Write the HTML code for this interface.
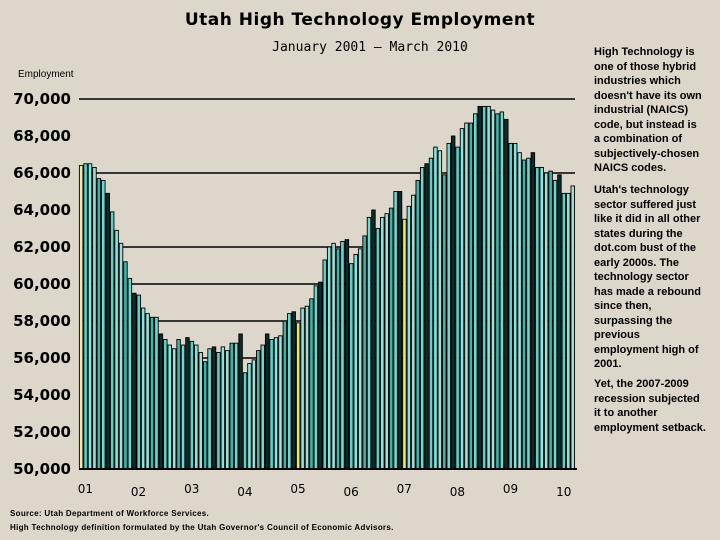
<!DOCTYPE html>
<html><head><meta charset="utf-8"><style>
body{margin:0;width:720px;height:540px;background:#ddd6ca;font-family:"Liberation Sans",sans-serif;overflow:hidden;position:relative}
.t{position:absolute;white-space:nowrap}
.p{position:absolute;left:594px;font:bold 11px 'Liberation Sans',sans-serif;line-height:14.5px;white-space:nowrap}
</style></head><body>
<div class="t" style="left:0;width:720px;text-align:center;top:10px;font:bold 17px 'DejaVu Sans',sans-serif;letter-spacing:0.5px">Utah High Technology Employment</div>
<div class="t" style="left:170px;width:400px;text-align:center;top:40px;font:13px 'DejaVu Sans Mono','Liberation Mono',monospace">January 2001 – March 2010</div>
<div class="t" style="left:18px;top:69px;font-size:10px">Employment</div>
<div class="p" style="top:45px">High Technology is<br>one of those hybrid<br>industries which<br>doesn't have its own<br>industrial (NAICS)<br>code, but instead is<br>a combination of<br>subjectively-chosen<br>NAICS codes.</div>
<div class="p" style="top:183px">Utah's technology<br>sector suffered just<br>like it did in all other<br>states during the<br>dot.com bust of the<br>early 2000s. The<br>technology sector<br>has made a rebound<br>since then,<br>surpassing the<br>previous<br>employment high of<br>2001.</div>
<div class="p" style="top:377px">Yet, the 2007-2009<br>recession subjected<br>it to another<br>employment setback.</div>
<div class="t" style="left:10px;top:509px;font-size:8px;font-weight:bold;letter-spacing:0.3px">Source: Utah Department of Workforce Services.</div>
<div class="t" style="left:10px;top:523px;font-size:8px;font-weight:bold;letter-spacing:0.3px">High Technology definition formulated by the Utah Governor's Council of Economic Advisors.</div>
<svg id="c" width="720" height="540" style="position:absolute;left:0;top:0"></svg>
<script>
const values=[66.4,66.5,66.5,66.3,65.7,65.6,64.9,63.9,62.9,62.2,61.2,60.3,
59.5,59.4,58.7,58.4,58.2,58.2,57.3,57.0,56.7,56.5,57.0,56.7,
57.1,56.9,56.7,56.3,55.8,56.5,56.6,56.3,56.6,56.4,56.8,56.8,
57.3,55.2,55.7,55.9,56.4,56.7,57.3,57.0,57.1,57.2,58.0,58.4,
58.5,57.9,58.7,58.8,59.2,59.9,60.1,61.3,62.0,62.2,61.9,62.3,
62.4,61.1,61.6,61.9,62.6,63.6,64.0,63.0,63.6,63.8,64.1,65.0,
65.0,63.5,64.2,64.8,65.6,66.3,66.5,66.8,67.4,67.2,65.9,67.6,
68.0,67.4,68.4,68.7,68.7,69.2,69.6,69.6,69.6,69.4,69.2,69.3,
68.9,67.6,67.6,67.1,66.7,66.8,67.1,66.3,66.3,66.0,66.1,65.6,
65.9,64.9,64.9,65.3];
const yTicks=[50000,52000,54000,56000,58000,60000,62000,64000,66000,68000,70000];
const gridVals=[70000,66000,62000,60000,58000,56000];
const yearLabels=["01","02","03","04","05","06","07","08","09","10"];
const NS="http://www.w3.org/2000/svg",svg=document.getElementById('c');
const x0=79,x1=575,yB=469,yT=99,vMin=50000,vMax=70000;
const y=v=>yB-(v-vMin)/(vMax-vMin)*(yB-yT);
const bw=(x1-x0)/values.length;
const xb=i=>x0+i*bw;
function mk(t,a){const e=document.createElementNS(NS,t);for(const k in a)e.setAttribute(k,a[k]);svg.appendChild(e);return e;}
gridVals.forEach(g=>{const l=mk('line',{x1:x0,x2:x1,y1:y(g),y2:y(g),stroke:'#000','stroke-width':1.5});

});
const cols=['#0d2b29','#5ccfc6','#86e6df','#a8dcd2','#3fb4ad','#72d6cf'];
values.forEach((v,i)=>{let f=cols[i%cols.length];if(i==49||i==73)f='#eeea50';if(i==0)f='#efe6b0';
const r=mk('rect',{x:xb(i)+0.4,y:y(v*1000),width:bw-0.9,height:yB-y(v*1000),fill:f,stroke:'#000','stroke-width':0.9});

});
const ax=mk('line',{x1:x0,x2:x1+2,y1:yB,y2:yB,stroke:'#000','stroke-width':2});


yTicks.forEach(t=>{const e=mk('text',{x:71,y:y(t)+5,'text-anchor':'end','font-size':15,'font-weight':'bold','font-family':'DejaVu Sans, sans-serif'});e.textContent=t.toLocaleString('en-US');

});
yearLabels.forEach((l,k)=>{const i=Math.min(k*12+1,values.length-1);const e=mk('text',{x:xb(i)+2,y:k%2?496:493,'text-anchor':'middle','font-size':12,'font-family':'DejaVu Sans, sans-serif'});e.textContent=l;

});
</script>
</body></html>
